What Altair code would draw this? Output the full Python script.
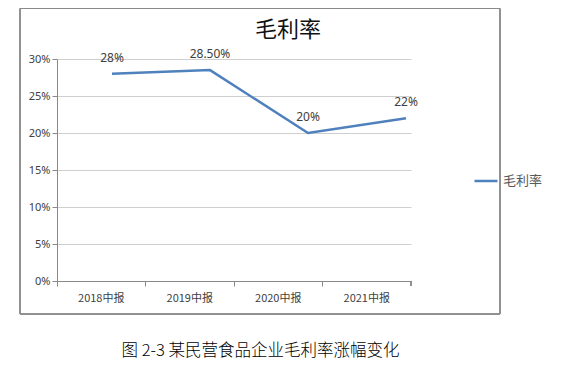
import altair as alt
import pandas as pd

cats = ["2018中报", "2019中报", "2020中报", "2021中报"]
vals = [0.28, 0.285, 0.20, 0.22]
labels = ["28%", "28.50%", "20%", "22%"]
yticks = [0, 0.05, 0.10, 0.15, 0.20, 0.25, 0.30]
series = "毛利率"
title_text = "毛利率"
caption = "图 2-3 某民营食品企业毛利率涨幅变化"

df = pd.DataFrame({"cat": cats, "val": vals, "lab": labels, "series": [series] * len(cats)})

LATIN = "Noto Sans"
CJK = "Noto Sans CJK SC"
GRAY = "#898989"

base = alt.Chart(df)

yaxis = alt.Axis(
    values=yticks, format=".0%", title=None, grid=True, gridColor="#cfcfcf",
    domainColor=GRAY, tickColor=GRAY, tickSize=5, labelPadding=2, labelOverlap=False,
    labelFont=LATIN, labelFontSize=11, labelColor="#404040",
)
yenc = alt.Y("val:Q", scale=alt.Scale(domain=[0, 0.30], nice=False, zero=True), axis=yaxis)

box = base.mark_rect(filled=False, stroke="#8a8a8a", strokeWidth=1).encode(
    x=alt.value(-37), x2=alt.value(443), y=alt.value(-50.5), y2=alt.value(255)
)

axis_layer = base.mark_point(opacity=0).encode(
    x=alt.X(
        "cat:N", sort=cats,
        scale=alt.Scale(type="band", paddingInner=0, paddingOuter=0),
        axis=alt.Axis(
            labelAngle=0, bandPosition=0, tickSize=5, labelPadding=6,
            domainColor=GRAY, tickColor=GRAY, grid=False,
            labelFont=CJK, labelFontSize=11, labelColor="#404040",
            title=caption, titleFont=CJK, titleFontSize=16.5, titleFontWeight=300,
            titleColor="#000000", titleX=203, titleY=69, titleBaseline="middle", titleAlign="center",
        ),
    ),
    y=yenc,
)

end_tick = base.mark_rule(color=GRAY).encode(
    x=alt.value(354), y=alt.value(222), y2=alt.value(227)
)

xline = alt.X("cat:N", sort=cats, scale=alt.Scale(type="point", padding=0.3061, align=0.9167), axis=None)

line = base.mark_line(strokeWidth=2.5).encode(
    x=xline,
    y=yenc,
    color=alt.Color(
        "series:N", scale=alt.Scale(range=["#4F81BD"]),
        legend=alt.Legend(
            title=None, orient="none", legendX=416, legendY=109,
            symbolType="stroke", symbolSize=529, symbolStrokeWidth=2.5,
            labelFont=CJK, labelFontSize=13, labelColor="#595959", labelOffset=4,
        ),
    ),
)

text = base.mark_text(dy=-16, fontSize=12, font=LATIN, color="#404040").encode(
    x=xline, y=yenc, text="lab:N"
)

chart = alt.layer(box, axis_layer, end_tick, line, text).resolve_scale(
    x="independent"
).properties(
    width=354, height=222,
    padding={"left": 49, "top": 51, "right": 150, "bottom": 80},
    autosize=alt.AutoSizeParams(type="none"),
    title=alt.TitleParams(
        title_text, anchor="middle", dx=54, fontSize=22, font=CJK,
        fontWeight="normal", color="#111111", offset=-34,
    ),
).configure_view(stroke=None)

chart.save("out.html", embed_options={"renderer": "svg", "actions": False})
